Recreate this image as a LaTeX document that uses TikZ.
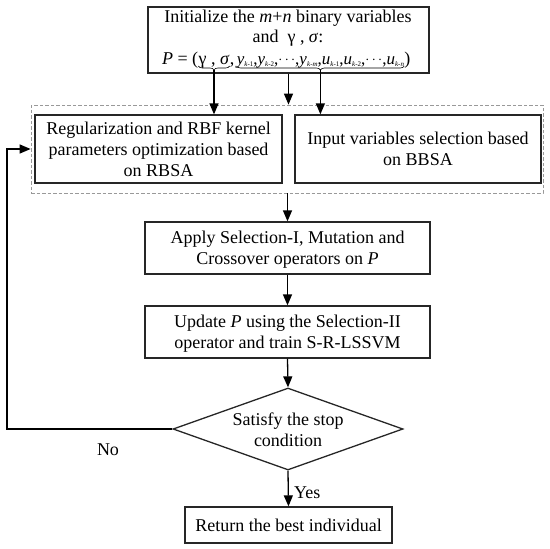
\documentclass[tikz,border=0pt]{standalone}
\usepackage{fontspec}
\setmainfont{Liberation Serif}
\usetikzlibrary{arrows.meta,shapes.geometric,decorations.pathreplacing}
\newcommand\ksub[1]{\raisebox{-2.5pt}{\fontsize{7}{7}\selectfont\textit{k}-#1}}
\newcommand\mydots{\raisebox{1pt}{\fontsize{15}{15}\selectfont$\cdots$}}
\tikzset{
 box/.style={draw=black!85, line width=1.3pt, inner sep=0pt, font=\fontsize{18}{21}\selectfont},
 txt/.style={inner sep=0pt, font=\fontsize{18}{21}\selectfont},
 tl/.style={txt, anchor=base},
 arr/.style={line width=1.3pt, -{Triangle[length=11pt,width=9pt]}},
 brc/.style={decorate, decoration={brace, amplitude=4pt, mirror}, line width=0.6pt},
 dbox/.style={draw=black!40, dash pattern=on 3.5pt off 2pt, line width=0.8pt},
}
\begin{document}
\begin{tikzpicture}[x=1pt,y=-1pt]
\useasboundingbox (0,0) rectangle (550,549);
% top box
\node[box, minimum width=281pt, minimum height=66pt] (top) at (288.5,40) {};
\node[txt] (t1) at (288,18) {Initialize the \textit{m}+\textit{n} binary variables};
\node[txt] (t2) at (288,38) {and~ γ , \textit{σ}:};
\node[txt, anchor=base] (gs) at (214,64) {γ , \textit{σ}};
\node[txt, anchor=base east] (pp) at (gs.base west) {\textit{P} = (\ };
\node[txt, anchor=base west] (cm) at (gs.base east) {,};
\node[txt, anchor=base west, font=\fontsize{17}{21}\selectfont] (ys) at ([xshift=2pt]cm.base east) {\textit{y}\ksub{1},\textit{y}\ksub{2},\mydots,\textit{y}\ksub{\textit{m}},\textit{u}\ksub{1},\textit{u}\ksub{2},\mydots,\textit{u}\ksub{\textit{n}}};
\node[txt, anchor=base west] (rp) at (ys.base east) {)};
\draw[brc] (gs.west |- 0,66) -- (gs.east |- 0,66);
\draw[brc] (ys.west |- 0,66) -- (ys.east |- 0,66);
\coordinate (b1) at (gs.center |- 0,70);
\coordinate (b2) at (ys.center |- 0,70);
% dashed group
\node[dbox, minimum width=512pt, minimum height=88pt, inner sep=0pt] (dash) at (287,149) {};
\node[box, minimum width=247pt, minimum height=68pt] (lbox) at (158.5,149) {};
\node[tl] (lb1) at (158.5,134) {Regularization and RBF kernel};
\node[tl] (lb2) at (158.5,155) {parameters optimization based};
\node[tl] (lb3) at (158.5,176) {on RBSA};
\node[box, minimum width=246pt, minimum height=68pt] (rbox) at (418,149) {};
\node[tl] (rb1) at (418,144.5) {Input variables selection based};
\node[tl] (rb2) at (418,165.5) {on BBSA};
% main column
\node[box, minimum width=285pt, minimum height=52pt] (apply) at (287.5,248) {};
\node[tl] (ap1) at (287.5,243.5) {Apply Selection-I, Mutation and};
\node[tl] (ap2) at (287.5,264.5) {Crossover operators on \textit{P}};
\node[box, minimum width=285pt, minimum height=52pt] (update) at (287.5,332) {};
\node[tl] (up1) at (287.5,327.5) {Update \textit{P} using the Selection-II};
\node[tl] (up2) at (287.5,348.5) {operator and train S-R-LSSVM};
\node[box, diamond, aspect=2.8, minimum width=230pt, minimum height=82pt] (dia) at (288,429) {};
\node[tl] (dt1) at (288,425.5) {Satisfy the stop};
\node[tl] (dt2) at (288,446.5) {condition};
\node[box, minimum width=207pt, minimum height=36pt] (ret) at (288.5,525) {Return the best individual};
\node[txt] (no) at (108,450) {No};
\node[txt, anchor=west] (yes) at (294,493) {Yes};
\coordinate (fb) at (7,429);
% connectors
\draw[arr] (b1) -- (b1 |- lbox.north);
\draw[arr] (b2) -- (b2 |- rbox.north);
\draw[arr] (top.south) -- (top.south |- dash.north);
\draw[arr] (dash.south -| apply.north) -- (apply.north);
\draw[arr] (apply.south) -- (update.north);
\draw[arr] (update.south) -- (dia.north);
\draw[arr] (dia.south) -- (ret.north);
\draw[arr] (dia.west) -- (fb) |- (dash.west);
\end{tikzpicture}
\end{document}
